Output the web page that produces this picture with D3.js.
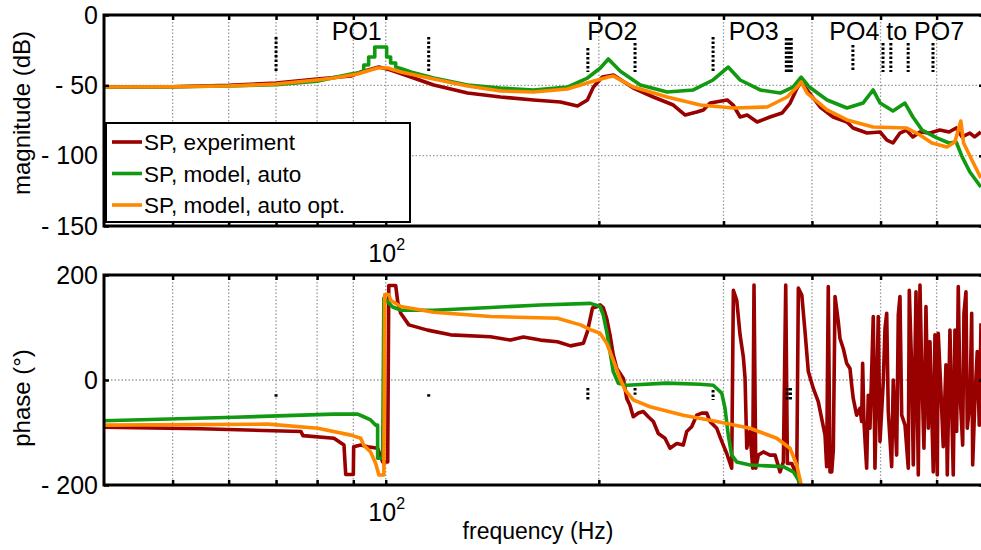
<!DOCTYPE html>
<html>
<head>
<meta charset="utf-8">
<title>SP frequency response</title>
<script src="https://cdnjs.cloudflare.com/ajax/libs/d3/7.8.5/d3.min.js"></script>
<style>
body { margin: 0; background: #fff; }
text { font-family: "Liberation Sans", Arial, Helvetica, sans-serif; fill: #000; }
</style>
</head>
<body>
<script>
// magnitude (dB)
var magFreqExp = [40, 50, 60, 70, 80, 89.3, 92.2, 97.8, 101.6, 108.5, 116.9, 130.5, 145.3, 161.7, 176.5, 186.6, 192.7, 196.5, 202.3, 209.7,
  223.8, 238.8, 254.8, 264.9, 275, 281, 287.3, 303.6, 309.6, 316.7, 324, 334.7, 349, 362.9, 372.6, 381.2, 386.2, 393.8, 410.8, 428.5,
  448.3, 457.2, 478.5, 499.3, 510.5, 520.6, 532.6, 543.8, 555.5, 568.3, 587.1, 606.4, 624.7, 639.5, 652, 668.6, 679, 692.9];
var magExp = [-51.2, -51, -50, -48.3, -45.5, -43.4, -40.5, -37, -39.1, -44.1, -49.8, -55.5, -58.3, -60.4, -61.8, -64.7, -60.4, -51.2, -44.1, -42.7,
  -51.9, -58.3, -64, -71.1, -69, -67.5, -62.6, -60.4, -64, -72.5, -71.1, -76.1, -72.5, -69.7, -62.6, -51.9, -47.6, -53.3, -65.4, -72.5,
  -76.1, -80.3, -83.9, -83.2, -88.9, -91, -83.9, -81.8, -86.7, -83.2, -83.9, -81.8, -83.2, -80.3, -86.7, -83.9, -86.7, -83.2];

var magFreqAuto = [40, 50, 60, 70, 80, 89.3, 93.1, 93.1, 94.6, 94.6, 96.5, 96.5, 100.3, 100.3, 101.6, 101.6, 103.3, 103.3, 105, 108.5,
  116.9, 130.5, 145.3, 161.7, 180.5, 192.7, 201, 206.3, 214.5, 228.9, 249.8, 271.9, 290, 304.6, 316.7, 338, 360.7, 376, 386.2, 396.6,
  420.2, 448.3, 472.3, 488, 499.3, 520.6, 541.3, 555.5, 572.3, 600.5, 624.7, 639.5, 652, 668.6, 692.9];
var magAuto = [-51.2, -51, -50.5, -49.5, -47, -42, -40.5, -35.5, -35.5, -29.9, -29.9, -22.7, -22.7, -29.9, -29.9, -34.1, -34.1, -37, -38, -40.5,
  -44.8, -49.8, -51.9, -53.3, -51.2, -44.8, -37.7, -31.3, -40, -49.8, -54.7, -53.3, -46.2, -37, -46.2, -53.3, -55.5, -51.2, -44.1, -51.2,
  -60.4, -66.1, -62.6, -53.3, -62.6, -68.2, -62.6, -72.5, -81.8, -87.4, -91, -90.3, -100.9, -111.6, -122.3];

var magFreqOpt = [40, 50, 60, 70, 80, 84.5, 91.3, 95.2, 97.4, 100.65, 105, 116.9, 130.5, 145.3, 161.7, 180.5, 194.6, 206.3, 209.7, 223.8,
  249.8, 278.2, 309.6, 345.8, 369, 381.2, 386.2, 393.8, 420.2, 448.3, 488, 543.8, 568.3, 591, 620.4, 636.6, 649.2, 655, 673, 692.9];
var magOpt = [-51.2, -51, -50.5, -49.1, -46.2, -44.8, -41.9, -39.1, -37.7, -37.7, -40.5, -45.5, -50.5, -54, -54.7, -52.6, -47.6, -44.1, -43.4, -51.2,
  -58.3, -64, -66.1, -65.4, -58.3, -51.2, -47.6, -55.5, -67.5, -74.6, -79.6, -80.3, -85.3, -91, -93.8, -90.3, -75.4, -91, -103.1, -115.9];

// phase (deg)
var phFreqExp = [40, 54.8, 75.9, 76.4, 84.5, 87.3, 87.8, 90, 90.1, 92.2, 94.3, 97.4, 99, 100.65, 101, 103.3, 104, 105, 107.8, 114.6,
  123.5, 140.6, 150.1, 156.5, 165.4, 174.8, 182.4, 190.2, 192.7, 195.9, 199.1, 200.8, 202.9, 205.2, 207.4, 209.6, 212, 214.2, 216.6, 217.8,
  219, 221.3, 223.7, 227.4, 231.1, 234.9, 238.8, 242.7, 248, 252.1, 257.7, 263.2, 266.2, 270.5, 275, 279.5, 284.1, 287.1, 293.5, 298.3,
  303.2, 308.1, 309.8, 313.2, 316.6, 320, 321.8, 323.6, 327, 329.9, 331.3, 333.2, 336, 341.5, 349, 354.8, 360.6, 364.5, 367.3, 369.3,
  374.6, 380.7, 382.7, 387, 391.1, 395.3, 401.8, 408.3, 417.4, 419.6, 421.8, 424.2, 426.6, 428.8, 431.2, 435.8, 438.2, 442.9, 447.8, 452.7,
  455.2, 457.5, 462.6, 467.6, 470.2, 471.7, 473.7, 477.9, 480.4, 483.1, 488.3, 491, 496.3, 499.1, 504.5, 507.3, 510.1, 512.7, 518.4, 521.1,
  526.9, 529.7, 532.6, 535.6, 541.4, 547.2, 549, 553.3, 556.2, 561.1, 565.3, 568.4, 571.6, 575.8, 579.6, 584, 587.2, 593.5, 596.8, 601.3,
  603.2, 608, 613.1, 618.5, 621.2, 626.6, 633.4, 636.9, 640.4, 643.8, 647.4, 653.1, 655.8, 660.1, 662.9, 668.8, 672.5, 674.7, 679.7, 684.8,
  689.3, 693.2];
var phExp = [-90, -93, -98, -106, -111, -124, -180, -180, -127, -124, -127, -130, -156, -156, 180, 180, 148, 127, 105, 95,
  86, 82.5, 76, 82, 76, 73, 65, 70, 92, 137, 140, 143, 138, 117, 86, 48, 22, 13, 3, -16,
  -35, -48, -70, -63, -60, -70, -79, -102, -111, -130, -121, -124, -98, -89, -67, -63, -63, -79, -92, -117,
  -140, -168, 171, 152, 86, 44, 3, -130, -98, -168, 181, -168, -143, -137, -143, -143, -175, -156, 181, -159,
  -159, -181, 175, 162, 92, 16, -16, -41, -105, -165, 178, -175, -175, -133, 159, 111, 79, 60, 32, 22,
  -10, -35, -67, -54, -79, 32, -79, -168, -29, -92, 121, -168, 121, -117, -3, 98, 127, -60, -165, 0,
  -143, 124, 159, -67, -86, -168, 171, 22, -162, 168, -181, 181, 22, -130, 140, -92, 73, -175, 86, -181,
  89, -10, -127, 29, -181, 95, -181, 95, -98, 178, -22, -124, 127, 168, -92, -41, 127, -162, -35, 54,
  -86, 108];

var phFreqAuto = [40, 61.1, 84.5, 91.3, 93.1, 95.2, 96.8, 97.4, 97.4, 99, 99.4, 102.3, 105, 116.9, 140.6, 165.4, 194.6, 200.8, 202.9, 205.2,
  207.4, 209.6, 213.1, 219, 249.4, 277.9, 290.2, 298.3, 301.5, 304.7, 308.1, 313.2, 327, 364.5, 376.5, 382.7, 384.8];
var phAuto = [-77.5, -71, -65, -65, -70, -76, -86, -86, -149, -149, 156, 139, 133, 133, 138, 143, 146, 140, 124, 92,
  54, 16, -6, -10, -6, -8, -10, -25, -54, -105, -143, -156, -162, -165, -175, -190, -205];

var phFreqOpt = [40, 68.2, 80.2, 89.3, 92.2, 93.1, 95.2, 96.8, 97.8, 99.4, 99.7, 101, 101.6, 105, 116.9, 140.6, 174.8, 188.4, 194.6, 200.8,
  205.2, 209.6, 214.2, 217.8, 223.7, 236.2, 263.2, 293.5, 327, 356.7, 372.5, 380.7, 384.8, 387];
var phOpt = [-86, -84, -92, -105, -111, -124, -137, -159, -181, -181, 163, 163, 152, 140, 129, 121, 117.5, 105, 96, 89,
  70, 38, 3, -19, -38, -51, -67, -79, -92, -111, -130, -162, -190, -205];

// dotted frequency-range markers
var poFreqs = [70, 115, 193, 225, 290, 368, 371, 374, 457, 504, 517, 547, 593];
var poTop = [-15.6, -15.6, -23.5, -19.9, -15.6, -16.3, -16.3, -16.3, -21.3, -19.9, -19.9, -19.9, -19.9];
var poBottom = [-40.5, -40.5, -40.5, -40.5, -40.5, -40.5, -40.5, -40.5, -40.5, -40.5, -40.5, -40.5, -40.5];
var phMarkFreqs = [70, 115, 193, 225, 290, 369, 373];
var phMarkTop = [-27, -27, -15, -15, -19, -15, -15];
var phMarkBottom = [-33, -33, -38, -28, -38, -38, -38];

var poLabels = ["PO1", "PO2", "PO3", "PO4 to PO7"];
var poLabelFreq = [91, 209, 331, 527];

var gridFreqs = [50, 60, 70, 80, 90, 100, 200, 300, 400, 500, 600];
var magTicks = [0, -50, -100, -150];
var phTicks = [200, 0, -200];

var seriesNames = ["SP, experiment", "SP, model, auto", "SP, model, auto opt."];
var seriesColors = ["#990000", "#119911", "#ff8800"];

var W = 981, H = 550;
var x = d3.scaleLog().domain([40, 700]).range([104, 984]);
var yMag = d3.scaleLinear().domain([-150, 0]).range([226, 15]);
var yPh = d3.scaleLinear().domain([-200, 200]).range([485, 275]);

var svg = d3.select("body").append("svg")
    .attr("width", W)
    .attr("height", H);

function fmt(d) {
  return d < 0 ? "- " + Math.abs(d) : String(d);
}

function drawPanel(id, y, ticks, series) {
  var x0 = x.range()[0], x1 = x.range()[1];
  var y0 = y.range()[1], y1 = y.range()[0];

  svg.append("clipPath").attr("id", id)
    .append("rect").attr("x", x0).attr("y", y0).attr("width", x1 - x0).attr("height", y1 - y0);

  var g = svg.append("g");

  // grid
  g.selectAll(".vg").data(gridFreqs).enter().append("line")
    .attr("x1", function(d){ return x(d); }).attr("x2", function(d){ return x(d); })
    .attr("y1", y0).attr("y2", y1)
    .attr("stroke", "#9a9a9a").attr("stroke-width", 1.3).attr("stroke-dasharray", "1.5,2");
  g.selectAll(".hg").data(ticks.filter(function(d){ return d != y.domain()[0] && d != y.domain()[1]; }))
    .enter().append("line")
    .attr("x1", x0).attr("x2", x1)
    .attr("y1", function(d){ return y(d); }).attr("y2", function(d){ return y(d); })
    .attr("stroke", "#9a9a9a").attr("stroke-width", 1.3).attr("stroke-dasharray", "1.5,2");

  // curves
  var line = d3.line().x(function(d){ return x(d[0]); }).y(function(d){ return y(d[1]); });
  var lg = g.append("g").attr("clip-path", "url(#" + id + ")");
  series.forEach(function(s, i) {
    lg.append("path")
      .datum(d3.zip(s[0], s[1]))
      .attr("d", line)
      .attr("fill", "none")
      .attr("stroke", seriesColors[i])
      .attr("stroke-width", 3.6)
      .attr("stroke-linejoin", "round");
  });

  // axes
  var left = g.append("g").attr("transform", "translate(" + x0 + ",0)")
    .call(d3.axisLeft(y).tickValues(ticks).tickSize(-5).tickPadding(6).tickFormat(fmt));
  var right = g.append("g").attr("transform", "translate(" + x1 + ",0)")
    .call(d3.axisRight(y).tickValues(ticks).tickSize(-5).tickFormat(""));
  var bottom = g.append("g").attr("transform", "translate(0," + y1 + ")")
    .call(d3.axisBottom(x).tickValues(gridFreqs).tickSize(-5).tickFormat(""));
  var top = g.append("g").attr("transform", "translate(0," + y0 + ")")
    .call(d3.axisTop(x).tickValues(gridFreqs).tickSize(-5).tickFormat(""));
  [left, right, bottom, top].forEach(function(a) {
    a.select(".domain").remove();
    a.selectAll("line").attr("stroke", "#000").attr("stroke-width", 2.5);
  });
  left.selectAll("text").attr("font-size", 25).attr("font-family", null).attr("fill", "#000");

  g.append("rect")
    .attr("x", x0).attr("y", y0).attr("width", x1 - x0).attr("height", y1 - y0)
    .attr("fill", "none").attr("stroke", "#000").attr("stroke-width", 3);

  // 10^2 label
  var t = g.append("text")
    .attr("x", x(100) + 1).attr("y", y1 + 36)
    .attr("text-anchor", "middle").attr("font-size", 25);
  t.append("tspan").text("10");
  t.append("tspan").attr("dy", -12).attr("font-size", 16).text("2");

  return g;
}

var gMag = drawPanel("clipMag", yMag, magTicks, [[magFreqExp, magExp], [magFreqAuto, magAuto], [magFreqOpt, magOpt]]);
var gPh = drawPanel("clipPh", yPh, phTicks, [[phFreqExp, phExp], [phFreqAuto, phAuto], [phFreqOpt, phOpt]]);

// markers
gMag.selectAll(".po").data(poFreqs).enter().append("line")
  .attr("x1", function(d){ return x(d); }).attr("x2", function(d){ return x(d); })
  .attr("y1", function(d, i){ return yMag(poTop[i]); })
  .attr("y2", function(d, i){ return yMag(poBottom[i]); })
  .attr("stroke", "#000").attr("stroke-width", 3).attr("stroke-dasharray", "2.5,2");
gPh.selectAll(".pm").data(phMarkFreqs).enter().append("line")
  .attr("x1", function(d){ return x(d); }).attr("x2", function(d){ return x(d); })
  .attr("y1", function(d, i){ return yPh(phMarkTop[i]); })
  .attr("y2", function(d, i){ return yPh(phMarkBottom[i]); })
  .attr("stroke", "#000").attr("stroke-width", 3).attr("stroke-dasharray", "2.5,2");

gMag.selectAll(".pol").data(poLabels).enter().append("text")
  .attr("x", function(d, i){ return x(poLabelFreq[i]); })
  .attr("y", 40)
  .attr("text-anchor", "middle")
  .attr("font-size", 25)
  .text(function(d){ return d; });

// legend
var leg = svg.append("g");
leg.append("rect").attr("x", 106).attr("y", 123).attr("width", 304).attr("height", 99)
  .attr("fill", "#fff").attr("stroke", "#000").attr("stroke-width", 2);
seriesNames.forEach(function(n, i) {
  var cy = 142 + i * 31.5;
  leg.append("line").attr("x1", 112).attr("x2", 142).attr("y1", cy).attr("y2", cy)
    .attr("stroke", seriesColors[i]).attr("stroke-width", 3.6);
  leg.append("text").attr("x", 144).attr("y", cy + 8).attr("font-size", 22.5).text(n);
});

// axis labels
svg.append("text").attr("transform", "translate(30,113) rotate(-90)")
  .attr("text-anchor", "middle").attr("font-size", 24).text("magnitude (dB)");
svg.append("text").attr("transform", "translate(30,398) rotate(-90)")
  .attr("text-anchor", "middle").attr("font-size", 24).text("phase (°)");
svg.append("text").attr("x", 538).attr("y", 539)
  .attr("text-anchor", "middle").attr("font-size", 23).text("frequency (Hz)");
</script>
</body>
</html>
